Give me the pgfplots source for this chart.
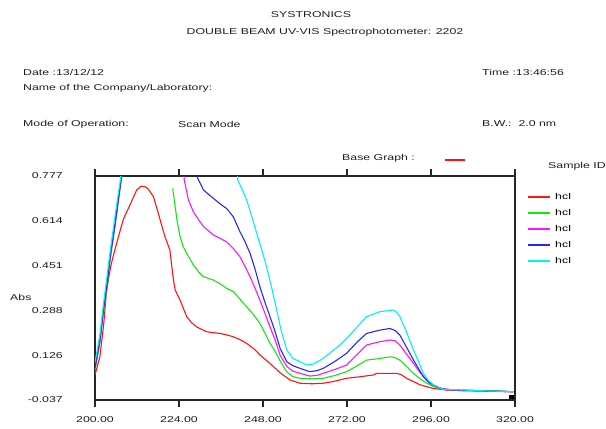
\documentclass[border=0pt]{standalone}
\usepackage{fontspec}
\setmainfont{Liberation Sans}[FakeStretch=1.45]
\usepackage{pgfplots}
\pgfplotsset{compat=1.18}
\definecolor{cRed}{RGB}{255,20,20}
\definecolor{cGreen}{RGB}{20,230,20}
\definecolor{cMag}{RGB}{255,20,255}
\definecolor{cBlue}{RGB}{40,40,240}
\definecolor{cCyan}{RGB}{0,240,255}
\definecolor{txt}{RGB}{30,30,30}

\begin{document}
\fontsize{8.5bp}{10bp}\selectfont
\begin{tikzpicture}[x=1bp,y=1bp,every node/.style={inner sep=0pt,font=\fontsize{8.5bp}{10bp}\selectfont}]
\useasboundingbox (0,0) rectangle (606,-428);
\fill[cRed] (445,-158.6) rectangle (465,-160.6);
% header
\node[text=txt] at (311,-15) {SYSTRONICS};
\node[text=txt] at (325,-32) {DOUBLE BEAM UV-VIS Spectrophotometer: 2202};
\node[text=txt,anchor=west] at (23,-72) {Date :13/12/12};
\node[text=txt,anchor=west] at (23,-88) {Name of the Company/Laboratory:};
\node[text=txt,anchor=west] at (482,-72) {Time :13:46:56};
\node[text=txt,anchor=west] at (23,-124) {Mode of Operation:};
\node[text=txt,anchor=west] at (178,-124) {Scan Mode};
\node[text=txt,anchor=west] at (482,-124) {B.W.:\ \ 2.0 nm};
\node[text=txt,anchor=west] at (342,-158) {Base Graph :};
\node[text=txt,anchor=west] at (548,-166) {Sample ID};
\node[text=txt,anchor=west] at (10,-297) {Abs};

\begin{axis}[
  at={(95bp,-400bp)},anchor=south west,scale only axis,
  width=420bp,height=224bp,
  xmin=200,xmax=320,ymin=-0.037,ymax=0.777,
  axis line style={line width=1.5bp,black!85},
  xtick={200,224,248,272,296,320},
  xticklabels={200.00,224.00,248.00,272.00,296.00,320.00},
  ytick={-0.037,0.1258,0.2886,0.4514,0.6142,0.777},
  yticklabels={-0.037,0.126,0.288,0.451,0.614,0.777},
  tick align=outside,major tick length=7bp,
  xtick style={line width=1.2bp,black!85},
  ytick style={draw=none},
  tick label style={text=txt},
  xticklabel style={anchor=north,inner sep=0pt,yshift=-9bp},
  yticklabel style={anchor=east,inner sep=0pt,xshift=-25bp},
  unbounded coords=jump,
  every axis plot/.append style={line width=1.1bp},
  legend style={draw=none,fill=none,at={(1.031,0.926)},anchor=north west,
    inner sep=0pt,row sep=7bp,column sep=5bp,
    nodes={inner sep=0pt,text height=7bp,text depth=2bp,anchor=west}},
  legend cell align=left,
  legend image code/.code={\fill[#1,draw=none] (0bp,-1bp) rectangle (22bp,1bp);},
]
\addplot[color=cRed] coordinates {(200,0.054)(201.4,0.12)(202.5,0.24)(203.3,0.36)(204.5,0.45)(205.7,0.51)(207,0.57)(208.1,0.62)(210,0.672)(211.9,0.726)(213.2,0.740)(214.3,0.738)(215.2,0.730)(216.7,0.702)(218.1,0.641)(219,0.60)(220,0.556)(221.4,0.508)(222.4,0.40)(222.9,0.363)(224.3,0.326)(226.2,0.266)(227.5,0.245)(229,0.229)(231.9,0.211)(235.7,0.205)(237.5,0.200)(239.5,0.193)(241.5,0.182)(243.3,0.169)(245.5,0.148)(247.1,0.127)(250,0.096)(252.9,0.062)(255.7,0.036)(258.6,0.024)(262,0.022)(265.2,0.024)(268,0.030)(271.9,0.042)(276,0.048)(279.5,0.054)(280.5,0.060)(286.2,0.060)(287.5,0.055)(289,0.042)(291,0.030)(292.9,0.018)(296.7,0.005)(300.5,-0.001)(310,-0.003)(319.5,-0.007)};
\addlegendentry{hcl}
\addplot[color=cGreen] coordinates {(200,0.07)(201.4,0.17)(202.4,0.28)(203.3,0.36)(204.3,0.47)(205.7,0.593)(207.1,0.726)(207.9,0.80)(208.5,0.9)(215,nan)(222.2,0.732)(222.9,0.666)(223.5,0.61)(224.3,0.556)(225.2,0.52)(226.2,0.496)(228.1,0.454)(229.5,0.43)(231,0.411)(233.8,0.399)(235.8,0.385)(237.6,0.369)(239.5,0.357)(241.4,0.33)(243.3,0.302)(245.2,0.275)(247.1,0.242)(248.6,0.205)(250,0.169)(251.5,0.14)(252.9,0.105)(254.8,0.065)(256.5,0.048)(258.6,0.042)(262,0.040)(265.2,0.042)(268.5,0.052)(271.9,0.066)(275,0.088)(277.6,0.108)(281.4,0.114)(284.3,0.120)(285.5,0.118)(287.1,0.108)(289,0.085)(291,0.060)(292.9,0.040)(294.8,0.024)(296.7,0.012)(298.6,0.005)(304.3,-0.003)(314.8,-0.003)(319.5,-0.007)};
\addlegendentry{hcl}
\addplot[color=cMag] coordinates {(200,0.08)(201.4,0.18)(202.4,0.29)(203.3,0.37)(204.3,0.48)(205.7,0.60)(207.1,0.735)(208.1,0.82)(208.6,0.9)(215,nan)(225.3,0.80)(225.5,0.762)(226.7,0.690)(228.1,0.647)(229.5,0.62)(231,0.593)(233.8,0.563)(235.8,0.55)(237.6,0.538)(239.5,0.514)(241.4,0.484)(242.8,0.45)(244.3,0.411)(245.7,0.37)(247.1,0.326)(248.5,0.28)(250,0.229)(251.5,0.18)(252.9,0.125)(254.8,0.085)(256.5,0.068)(258.6,0.060)(261.4,0.050)(263.5,0.053)(265.2,0.060)(268.5,0.074)(271.9,0.090)(275,0.13)(277.6,0.163)(281.4,0.175)(284.3,0.181)(285.8,0.178)(287.1,0.163)(289,0.13)(291,0.096)(292.9,0.062)(294.8,0.036)(296.7,0.018)(298.6,0.005)(304.3,-0.003)(319.5,-0.007)};
\addlegendentry{hcl}
\addplot[color=cBlue] coordinates {(200,0.08)(201.4,0.18)(202.4,0.29)(203.3,0.37)(204.3,0.48)(205.7,0.60)(207.1,0.73)(208,0.82)(208.6,0.9)(215,nan)(228.8,0.80)(229,0.778)(231,0.726)(233.8,0.696)(235.8,0.675)(237.6,0.659)(239.5,0.629)(241.4,0.575)(242.8,0.54)(244.3,0.496)(245.7,0.44)(247.1,0.375)(248.5,0.32)(250,0.266)(251.5,0.21)(252.9,0.150)(254.8,0.102)(256.5,0.088)(258.6,0.078)(261.4,0.066)(263.5,0.070)(265.2,0.078)(268.5,0.103)(271.9,0.133)(275,0.175)(277.6,0.205)(281.4,0.217)(284.3,0.223)(285.8,0.215)(287.1,0.199)(289,0.155)(291,0.108)(293.8,0.048)(295.5,0.025)(297.6,0.011)(300.5,0.0)(310,-0.003)(319.5,-0.007)};
\addlegendentry{hcl}
\addplot[color=cCyan] coordinates {(200,0.10)(201.4,0.20)(202.4,0.31)(203.3,0.40)(204.3,0.50)(205.7,0.63)(207.1,0.75)(207.8,0.82)(208.3,0.9)(215,nan)(240.6,0.80)(240.8,0.762)(242,0.73)(243.3,0.690)(244.8,0.63)(246.2,0.569)(247.6,0.51)(249,0.448)(250.5,0.37)(251.9,0.290)(253.3,0.21)(254.8,0.145)(256.5,0.115)(258.6,0.102)(260.5,0.090)(262.4,0.094)(265.2,0.114)(267.5,0.138)(270,0.163)(272.5,0.195)(275,0.23)(277.6,0.266)(281.4,0.284)(285.2,0.290)(286.2,0.282)(287.1,0.266)(289,0.21)(291,0.145)(292.5,0.10)(293.8,0.060)(295.2,0.035)(296.7,0.018)(299.5,0.002)(310,-0.003)(319.5,-0.007)};
\addlegendentry{hcl}
\addplot[only marks,mark=square*,mark size=1.6bp,black,forget plot] coordinates {(319.0,-0.027)};
\end{axis}
\end{tikzpicture}
\end{document}
